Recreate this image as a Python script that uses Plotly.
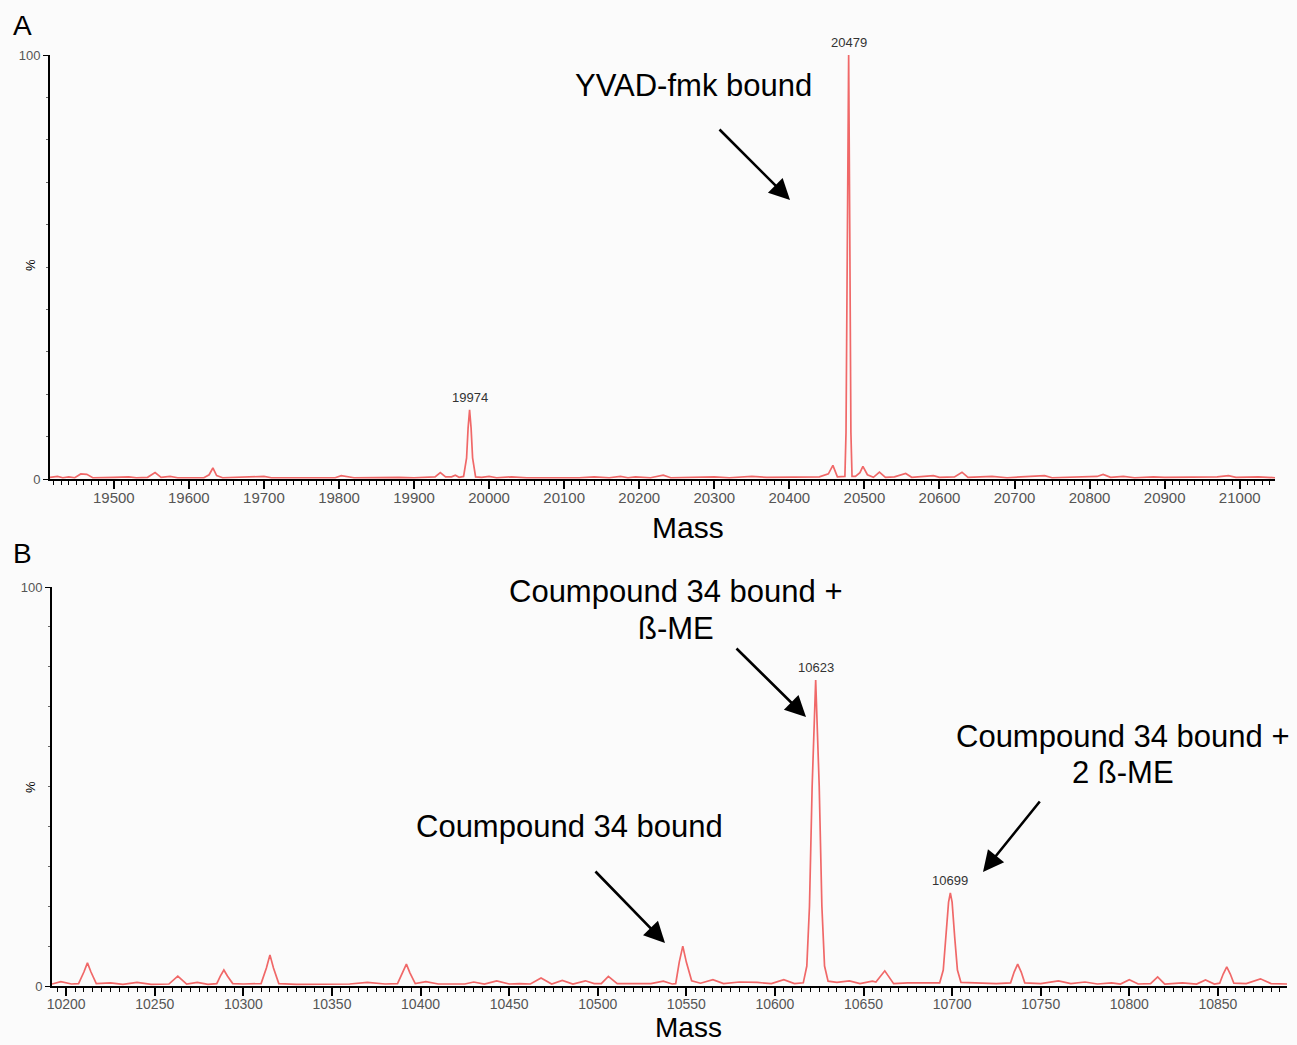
import plotly.graph_objects as go

W, H = 1297, 1045

# ---------------- Data ----------------
# Panel A : deconvoluted mass spectrum (Mass, % intensity)
mass_a = [19415, 19425, 19432, 19440, 19448, 19456, 19464, 19472, 19500, 19520,
          19530, 19545, 19555, 19563, 19575, 19585, 19620, 19627, 19632, 19637,
          19645, 19700, 19710, 19795, 19803, 19812, 19820, 19880, 19900, 19928,
          19935, 19942, 19950, 19955, 19960, 19966, 19970, 19972, 19974, 19976,
          19978, 19982, 19990, 20000, 20010, 20030, 20050, 20120, 20140, 20160,
          20175, 20185, 20195, 20215, 20232, 20242, 20300, 20320, 20350, 20370,
          20420, 20440, 20452, 20458, 20464, 20470, 20474, 20475.5, 20477, 20478.5,
          20479, 20480.5, 20482, 20483.5, 20488, 20494, 20498, 20504, 20512, 20520,
          20528, 20540, 20555, 20563, 20578, 20592, 20600, 20620, 20630, 20638,
          20670, 20690, 20740, 20750, 20810, 20818, 20828, 20845, 20860, 20885,
          20900, 20970, 20985, 20995, 21025, 21047]
int_a = [0.4, 0.6, 0.3, 0.5, 0.3, 1.2, 1.1, 0.3, 0.4, 0.5,
         0.3, 0.4, 1.5, 0.4, 0.6, 0.3, 0.3, 1.0, 2.6, 0.8,
         0.3, 0.6, 0.3, 0.3, 0.8, 0.6, 0.3, 0.4, 0.3, 0.5,
         1.5, 0.5, 0.5, 0.9, 0.4, 0.6, 5.0, 12.0, 16.3, 12.0,
         5.0, 0.5, 0.4, 0.6, 0.3, 0.5, 0.3, 0.3, 0.5, 0.3,
         0.6, 0.3, 0.5, 0.3, 0.9, 0.3, 0.5, 0.3, 0.6, 0.4,
         0.5, 0.5, 1.2, 3.2, 0.5, 0.5, 0.6, 11.0, 58.0, 95.0,
         100.0, 58.0, 11.0, 0.6, 0.6, 1.5, 3.0, 1.0, 0.4, 1.6,
         0.4, 0.5, 1.3, 0.4, 0.6, 0.8, 0.4, 0.5, 1.6, 0.4,
         0.6, 0.3, 0.8, 0.3, 0.6, 1.1, 0.4, 0.6, 0.3, 0.5,
         0.4, 0.5, 0.8, 0.4, 0.5, 0.3]

# Panel B
mass_b = [10192, 10197, 10203, 10207, 10210, 10212, 10214, 10217, 10225, 10232,
          10240, 10248, 10258, 10263, 10268, 10274, 10280, 10285, 10287, 10289,
          10291, 10294, 10300, 10310, 10313, 10315, 10317, 10320, 10330, 10345,
          10360, 10370, 10380, 10387, 10390, 10392, 10394, 10397, 10403, 10410,
          10425, 10430, 10436, 10443, 10450, 10456, 10462, 10468, 10474, 10480,
          10486, 10493, 10498, 10502, 10506, 10511, 10530, 10537, 10542, 10544,
          10546, 10548, 10550, 10553, 10558, 10565, 10571, 10580, 10590, 10598,
          10605, 10611, 10616, 10618, 10619.5, 10621, 10623, 10625, 10626.5, 10628,
          10630, 10635, 10642, 10648, 10655, 10657, 10662, 10667, 10675, 10685,
          10693, 10695, 10696.5, 10698, 10699, 10700, 10701.5, 10703, 10705, 10715,
          10725, 10733, 10735, 10737, 10739, 10741, 10750, 10760, 10767, 10775,
          10782, 10790, 10795, 10800, 10805, 10812, 10816, 10820, 10830, 10838,
          10843, 10848, 10851, 10853, 10855, 10857, 10859, 10866, 10874, 10880,
          10889]
int_b = [0.5, 1.1, 0.5, 0.6, 3.5, 5.8, 3.5, 0.6, 0.8, 0.4,
         0.9, 0.4, 0.5, 2.5, 0.5, 0.9, 0.4, 0.6, 2.5, 4.0,
         2.5, 0.6, 0.5, 0.6, 4.5, 7.8, 4.5, 0.6, 0.4, 0.5,
         0.5, 0.9, 0.5, 0.6, 3.3, 5.5, 3.3, 0.6, 1.1, 0.5,
         0.5, 1.0, 0.5, 1.3, 0.5, 0.6, 0.5, 2.0, 0.5, 1.4,
         0.5, 1.3, 0.6, 0.6, 2.4, 0.6, 0.6, 1.2, 0.5, 0.6,
         6.0, 10.0, 6.0, 1.3, 0.7, 1.6, 0.6, 1.0, 0.9, 0.6,
         1.6, 0.6, 0.8, 5.0, 20.0, 50.0, 76.7, 50.0, 20.0, 5.0,
         1.2, 0.9, 1.3, 0.6, 1.2, 1.0, 3.8, 0.6, 0.8, 0.7,
         0.8, 4.0, 12.0, 21.0, 23.3, 21.0, 12.0, 4.0, 0.9, 0.7,
         0.6, 0.8, 3.5, 5.5, 3.5, 0.8, 0.6, 1.3, 0.6, 1.0,
         0.5, 0.8, 0.5, 1.6, 0.5, 0.6, 2.3, 0.5, 0.8, 0.5,
         1.5, 0.5, 0.7, 3.0, 4.8, 3.0, 0.7, 0.6, 1.8, 0.6,
         0.5]

# Peak labels
peak_labels_a = [19974, 20479]
peak_heights_a = [16.3, 100.0]
peak_labels_b = [10623, 10699]
peak_heights_b = [76.7, 23.3]

# Ranges / ticks
xrange_a = [19415, 21047]
xrange_b = [10192, 10889]
xticks_a = list(range(19500, 21001, 100))
xticks_b = list(range(10200, 10851, 50))

# ---------------- Figure ----------------
LINE = '#f06868'
FONT = 'Liberation Sans, Arial, sans-serif'
BG = '#fbfbfb'

def px_x(p):
    return p / W

def px_y(p):
    return 1 - p / H

fig = go.Figure()
fig.add_trace(go.Scatter(x=mass_a, y=int_a, mode='lines', xaxis='x', yaxis='y',
                         line=dict(color=LINE, width=1.7), showlegend=False, hoverinfo='skip'))
fig.add_trace(go.Scatter(x=mass_b, y=int_b, mode='lines', xaxis='x2', yaxis='y2',
                         line=dict(color=LINE, width=1.7), showlegend=False, hoverinfo='skip'))

def xaxis_cfg(rng, ticks, dom, anchor, minor_dt, fs):
    return dict(range=rng, domain=dom, anchor=anchor, tickvals=ticks,
                ticktext=[str(t) for t in ticks], ticks='outside', ticklen=8, tickwidth=1.5,
                tickcolor='black', showline=True, linecolor='black', linewidth=2,
                showgrid=False, zeroline=False, automargin=False,
                ticklabelstandoff=-4,
                tickfont=dict(family=FONT, size=fs, color='#555555'),
                minor=dict(dtick=minor_dt, tick0=ticks[0], ticks='outside', ticklen=4,
                           tickwidth=1.2, tickcolor='black', showgrid=False))

def yaxis_cfg(dom, anchor):
    return dict(range=[0, 100], domain=dom, anchor=anchor, tickvals=[0, 100],
                ticktext=['0', '100'], ticks='outside', ticklen=5, tickwidth=1.2,
                tickcolor='black', showline=True, linecolor='black', linewidth=2,
                showgrid=False, zeroline=False, automargin=False,
                tickfont=dict(family=FONT, size=13, color='#555555'),
                minor=dict(dtick=10, tick0=0, ticks='outside', ticklen=2,
                           tickwidth=1, tickcolor='#666666', showgrid=False))

fig.update_layout(
    width=W, height=H, autosize=False,
    margin=dict(l=0, r=0, t=0, b=0, pad=0),
    paper_bgcolor=BG, plot_bgcolor=BG,
    xaxis=xaxis_cfg(xrange_a, xticks_a, [px_x(50), px_x(1275)], 'y', 10, 15),
    yaxis=yaxis_cfg([px_y(479), px_y(55)], 'x'),
    xaxis2=xaxis_cfg(xrange_b, xticks_b, [px_x(52), px_x(1287)], 'y2', 5, 14),
    yaxis2=yaxis_cfg([px_y(986), px_y(587)], 'x2'),
)

ann = []
# peak labels
for m, h in zip(peak_labels_a, peak_heights_a):
    ann.append(dict(x=m, y=h, xref='x', yref='y', text=str(m), showarrow=False,
                    yanchor='bottom', yshift=3,
                    font=dict(family=FONT, size=13, color='#333333')))
for m, h in zip(peak_labels_b, peak_heights_b):
    ann.append(dict(x=m, y=h, xref='x2', yref='y2', text=str(m), showarrow=False,
                    yanchor='bottom', yshift=3,
                    font=dict(family=FONT, size=13, color='#333333')))

def txt(x, y, s, size=31, angle=0):
    ann.append(dict(x=px_x(x), y=px_y(y), xref='paper', yref='paper', text=s,
                    showarrow=False, xanchor='center', yanchor='middle', textangle=angle,
                    font=dict(family=FONT, size=size, color='black')))

def arrow(tx, ty, hx, hy):
    ann.append(dict(x=px_x(hx), y=px_y(hy), xref='paper', yref='paper', text='',
                    showarrow=True, ax=tx - hx, ay=ty - hy, axref='pixel', ayref='pixel',
                    arrowhead=2, arrowsize=1.6, arrowwidth=2.6, arrowcolor='black'))

txt(22, 25, 'A', 28)
txt(22, 553, 'B', 28)
txt(693, 86, 'YVAD-fmk bound')
arrow(718, 128, 790, 200)
txt(676, 591, 'Coumpound 34 bound +')
txt(676, 628, 'ß-ME')
arrow(735, 647, 806, 717)
txt(1123, 736, 'Coumpound 34 bound +')
txt(1123, 772, '2 ß-ME')
arrow(1041, 800, 983, 872)
txt(569, 826, 'Coumpound 34 bound')
arrow(594, 870, 665, 943)
txt(688, 527, 'Mass', 30)
txt(688, 1027, 'Mass', 28)
txt(30, 265, '%', 13, -90)
txt(30, 787, '%', 13, -90)

fig.update_layout(annotations=ann)
fig.write_html('out.html', config={'displayModeBar': False},
               post_script="document.body.style.margin='0px';document.body.style.padding='0px';document.body.style.overflow='hidden';")
